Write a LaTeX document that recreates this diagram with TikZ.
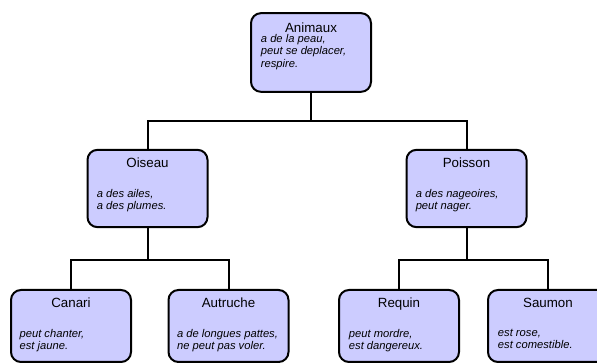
\documentclass[tikz,border=0pt]{standalone}
\usepackage{fontspec}
\setmainfont{Liberation Sans}
\usetikzlibrary{positioning}
\definecolor{boxfill}{RGB}{204,204,255}

\begin{document}
\begin{tikzpicture}[x=0.75pt,y=-0.75pt]
    \tikzstyle{every node} = [font=\fontsize{8.4}{9.2}\selectfont]
    \tikzstyle{block} = [draw, line width=1.5pt, rectangle, fill=boxfill, rounded corners=7.5pt, minimum width=90pt]
    \tikzstyle{heading} = [inner sep=0pt, font=\fontsize{10}{12}\selectfont]
    \tikzstyle{notes} = [inner sep=0pt, align=left, font=\fontsize{8.4}{9.2}\selectfont\itshape]
    \tikzstyle{link} = [line width=1.5pt]
    \useasboundingbox (0,0) rectangle (597,363);

    % place nodes
    \node[block, minimum height=59pt] (animaux) at (311,52.5) {};
    \node[heading, below=8pt of animaux.north] (animauxTitle) {Animaux};
    \node[notes, below right=16.5pt and 8pt of animaux.north west] (animauxNotes) {a de la peau,\\peut se deplacer,\\respire.};

    \node[block, minimum height=58pt] (oiseau) at (147.5,188.5) {};
    \node[heading, below=6.5pt of oiseau.north] (oiseauTitle) {Oiseau};
    \node[notes, below right=30pt and 7.5pt of oiseau.north west] (oiseauNotes) {a des ailes,\\a des plumes.};

    \node[block, minimum height=58pt] (poisson) at (466.5,188.5) {};
    \node[heading, below=6.5pt of poisson.north] (poissonTitle) {Poisson};
    \node[notes, below right=30pt and 7.5pt of poisson.north west] (poissonNotes) {a des nageoires,\\peut nager.};

    \node[block, minimum height=54pt] (canari) at (71,326) {};
    \node[heading, below=6.5pt of canari.north] (canariTitle) {Canari};
    \node[notes, below right=30pt and 7pt of canari.north west] (canariNotes) {peut chanter,\\est jaune.};

    \node[block, minimum height=54pt] (autruche) at (228.5,326) {};
    \node[heading, below=6.5pt of autruche.north] (autrucheTitle) {Autruche};
    \node[notes, below right=30pt and 7pt of autruche.north west] (autrucheNotes) {a de longues pattes,\\ne peut pas voler.};

    \node[block, minimum height=54pt] (requin) at (399,326) {};
    \node[heading, below=6.5pt of requin.north] (requinTitle) {Requin};
    \node[notes, below right=30pt and 8pt of requin.north west] (requinNotes) {peut mordre,\\est dangereux.};

    \node[block, minimum height=54pt] (saumon) at (548,326) {};
    \node[heading, below=6.5pt of saumon.north] (saumonTitle) {Saumon};
    \node[notes, below right=30pt and 8pt of saumon.north west] (saumonNotes) {est rose,\\est comestible.};

    % Connections
    \coordinate (fork0) at (311,121);
    \coordinate (fork1) at (147.5,260);
    \coordinate (fork2) at (466.5,260);
    \draw[link] (animaux.south) -- (fork0) -| (oiseau.north);
    \draw[link] (fork0) -| (poisson.north);
    \draw[link] (oiseau.south) -- (fork1) -| (canari.north);
    \draw[link] (fork1) -| (autruche.north);
    \draw[link] (poisson.south) -- (fork2) -| (requin.north);
    \draw[link] (fork2) -| (saumon.north);

\end{tikzpicture}
\end{document}
